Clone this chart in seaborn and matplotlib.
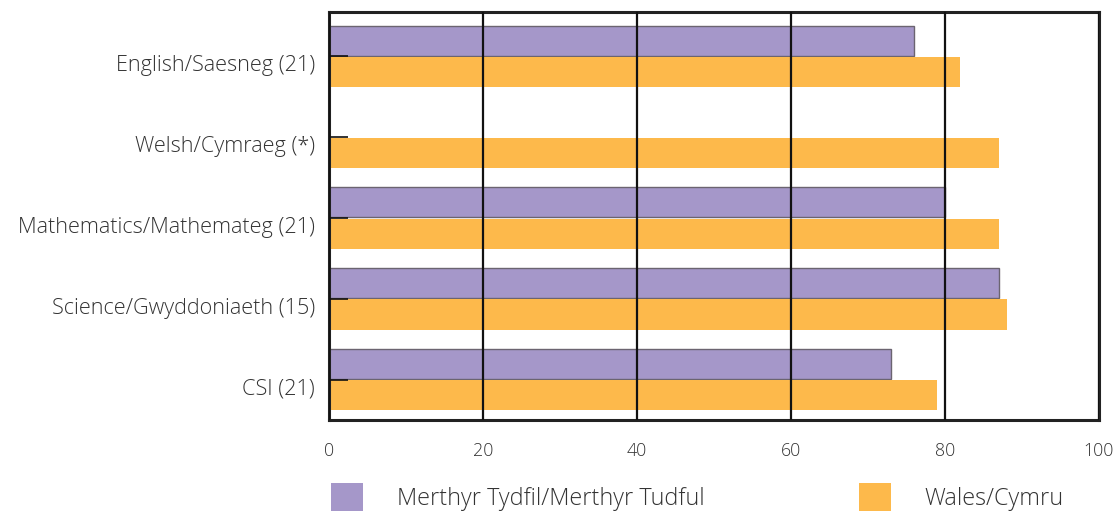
import matplotlib
matplotlib.use("Agg")
import matplotlib.pyplot as plt
import matplotlib.transforms as mtransforms
import seaborn as sns
import pandas as pd
import numpy as np
from matplotlib.patches import Patch

categories = ["English/Saesneg (21)", "Welsh/Cymraeg (*)", "Mathematics/Mathemateg (21)",
              "Science/Gwyddoniaeth (15)", "CSI (21)"]
series_names = ["Merthyr Tydfil/Merthyr Tudful", "Wales/Cymru"]
merthyr = [76, np.nan, 80, 87, 73]
wales = [82, 87, 87, 88, 79]
xticks = [0, 20, 40, 60, 80, 100]

colors = ["#A597C9", "#FDB94B"]

rows = []
for c, m, w in zip(categories, merthyr, wales):
    rows.append({"cat": c, "series": series_names[0], "value": m})
    rows.append({"cat": c, "series": series_names[1], "value": w})
df = pd.DataFrame(rows)

sns.set_theme(style="white")
plt.rcParams["font.family"] = ["Open Sans", "DejaVu Sans"]

fig = plt.figure(figsize=(11.14, 5.13), dpi=100)
ax = fig.add_axes([329/1114, 1-420/513, (1099-329)/1114, (420-12)/513])

sns.barplot(data=df, y="cat", x="value", hue="series", order=categories,
            hue_order=series_names, palette=colors, orient="h",
            width=0.78, gap=0.04, saturation=1, ax=ax, legend=False, errorbar=None)

for p in ax.containers[0]:
    p.set_edgecolor("#6b6470")
    p.set_linewidth(1.0)
for p in ax.containers[1]:
    p.set_linewidth(0)

ax.set_xlim(0, 100)
ax.set_ylim(4.5, -0.55)
ax.set_xticks(xticks)
ax.set_xticklabels([str(t) for t in xticks])
ax.set_xlabel("")
ax.set_ylabel("")

ax.set_axisbelow(False)
ax.grid(axis="x", color="#111111", linewidth=1.6)
ax.grid(axis="y", visible=False)

for s in ax.spines.values():
    s.set_visible(True)
    s.set_color("#222222")
    s.set_linewidth(2.2)

ax.tick_params(axis="y", direction="in", length=14, width=1.2, color="#111111",
               pad=10, labelsize=15.6, labelcolor="#333333", left=True)
ax.tick_params(axis="x", length=0, pad=16, labelsize=12.8, labelcolor="#333333")

offset = mtransforms.ScaledTranslation(0, -7/100, fig.dpi_scale_trans)
for lab in ax.get_yticklabels():
    lab.set_transform(lab.get_transform() + offset)
    lab.set_fontweight("light")
for lab in ax.get_xticklabels():
    lab.set_fontweight("light")

handles = [Patch(facecolor=colors[0], edgecolor="none"),
           Patch(facecolor=colors[1], edgecolor="none")]
leg = fig.legend(handles, series_names, loc="upper left",
           bbox_to_anchor=(322/1114, 1-474/513), ncol=2, frameon=False,
           fontsize=16.8, handlelength=1.35, handleheight=1.45,
           handletextpad=1.45, columnspacing=6.65, labelcolor="#333333",
           borderaxespad=0, borderpad=0.4)
for t in leg.get_texts():
    t.set_fontweight("light")

fig.savefig("out.png", dpi=100)
